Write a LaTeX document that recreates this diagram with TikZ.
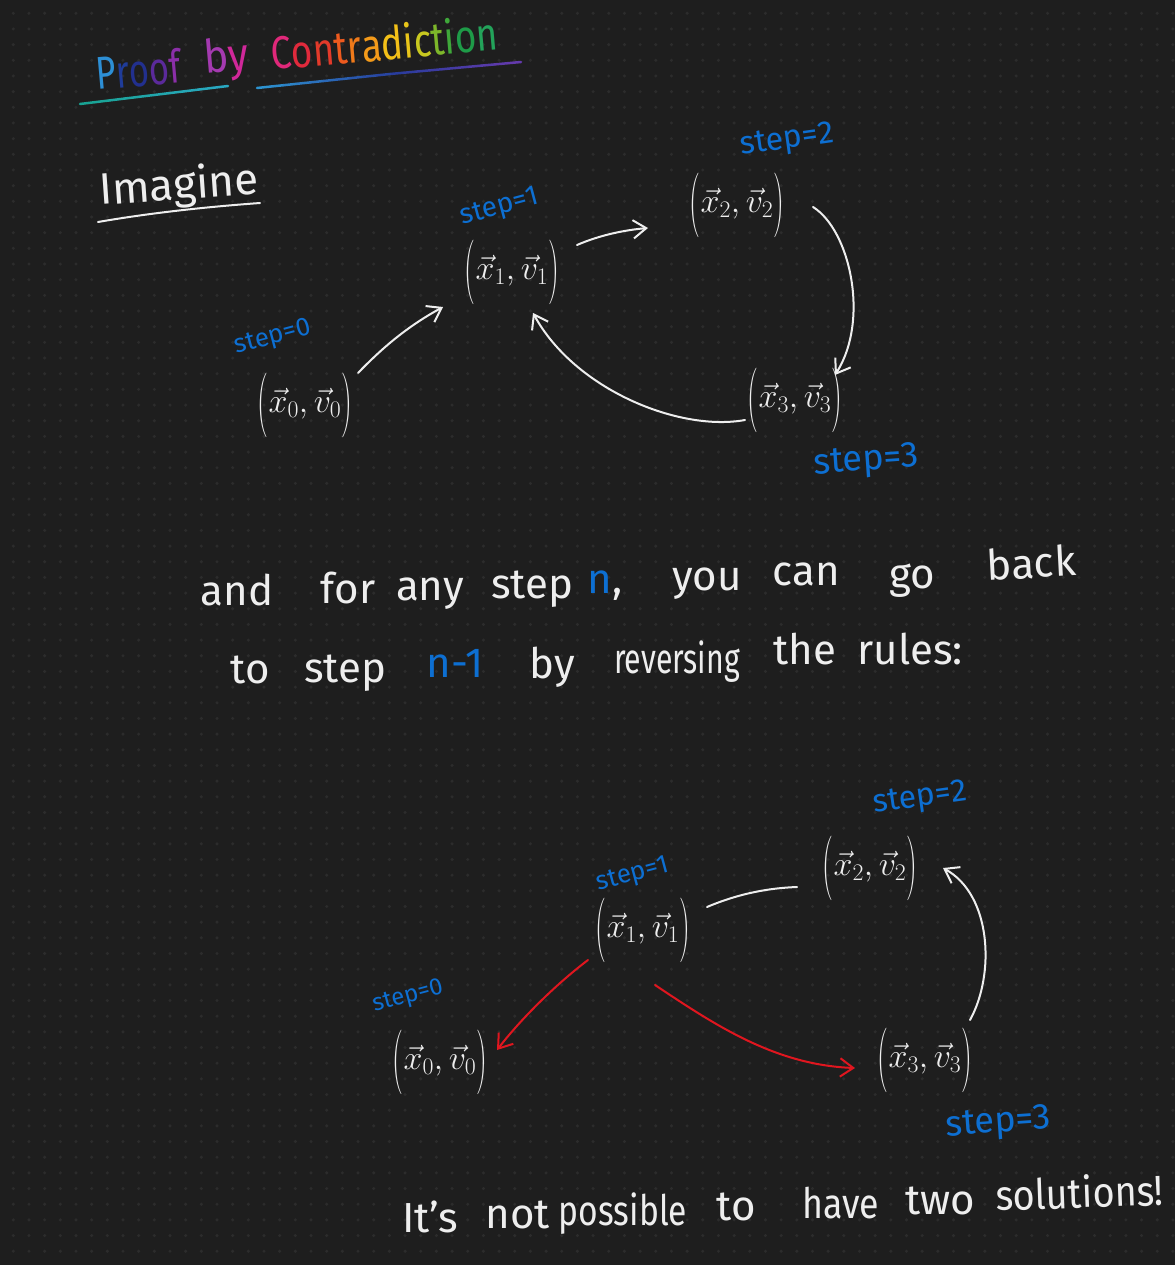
\RequirePackage{fix-cm}
\documentclass[tikz,border=0pt]{standalone}
\usepackage{fontspec}
\setmainfont{Fira Sans}
\usetikzlibrary{arrows.meta,calc}
\definecolor{bgc}{HTML}{1E1E1E}
\definecolor{dotc}{HTML}{2C2C2C}
\definecolor{inkc}{HTML}{EEEEEE}
\definecolor{bluec}{HTML}{0D6FD2}
\definecolor{redc}{HTML}{E0161F}
\definecolor{tP}{HTML}{2D8FD5}
\definecolor{tR}{HTML}{1F3C9A}
\definecolor{tO}{HTML}{22308F}
\definecolor{tOb}{HTML}{5B2A9B}
\definecolor{tF}{HTML}{8B2FA8}
\definecolor{tB}{HTML}{A43AB0}
\definecolor{tY}{HTML}{D0289A}
\definecolor{tC}{HTML}{E0287A}
\definecolor{tCo}{HTML}{E02A3C}
\definecolor{tN}{HTML}{E33A2A}
\definecolor{tT}{HTML}{EE5A1E}
\definecolor{tRr}{HTML}{F07A1A}
\definecolor{tA}{HTML}{F39A1A}
\definecolor{tD}{HTML}{F3C018}
\definecolor{tI}{HTML}{E8C51A}
\definecolor{tCc}{HTML}{C8C820}
\definecolor{tTt}{HTML}{7DB62A}
\definecolor{tIi}{HTML}{3FA83A}
\definecolor{tOo}{HTML}{1E9B48}
\definecolor{tNn}{HTML}{23A35A}
\definecolor{ulA}{HTML}{19A394}
\definecolor{ulB}{HTML}{2BA9C6}
\definecolor{ulC}{HTML}{2D93D0}
\definecolor{ulD}{HTML}{283C9C}
\definecolor{ulE}{HTML}{6A3AAE}
\newcommand{\tlp}{\raisebox{-0.25em}{\scalebox{0.9}[1.9]{$($}}}
\newcommand{\trp}{\raisebox{-0.25em}{\scalebox{0.9}[1.9]{$)$}}}
\newcommand{\tupl}[1]{\tlp$\vec{x}_{#1},\vec{v}_{#1}$\trp}
\tikzset{
  inkline/.style={draw=inkc, line width=2pt, line cap=round},
  arr/.style={inkline, -{Straight Barb[angle=70:16pt]}},
  redarr/.style={arr, draw=redc},
  tup/.style={text=inkc, font=\fontsize{34}{40}\selectfont, inner sep=0pt},
  steplbl/.style={text=bluec, inner sep=0pt},
  word/.style={text=inkc, font=\fontsize{42}{48}\selectfont, inner sep=0pt, anchor=base},
  titlew/.style={anchor=base west, rotate=5, inner sep=0pt, font=\fontsize{46}{52}\selectfont},
  dotline/.style={draw=dotc, line width=3.4pt, line cap=round, dash pattern=on 0pt off 15.67pt},
}
\begin{document}
\begin{tikzpicture}[x=1pt,y=-1pt]
\fill[bgc] (0,0) rectangle (1175,1265);
\useasboundingbox (0,0) rectangle (1175,1265);
\foreach \j in {0,...,80} {
  \draw[dotline] (13.3,{13.3+15.67*\j}) -- (1175,{13.3+15.67*\j});
}
% title
\node[titlew] (title1) at (97,90)
 {\scalebox{0.75}[1]{\textcolor{tP}{P}\textcolor{tR}{r}\textcolor{tO}{o}\textcolor{tOb}{o}\textcolor{tF}{f}}};
\node[titlew] (title2) at (205,74)
 {\scalebox{0.9}[1]{\textcolor{tB}{b}\textcolor{tY}{y}}};
\node[titlew] (title3) at (272,70)
 {\scalebox{0.8}[1]{\textcolor{tC}{C}\textcolor{tCo}{o}\textcolor{tN}{n}\textcolor{tT}{t}\textcolor{tRr}{r}\textcolor{tA}{a}\textcolor{tD}{d}\textcolor{tI}{i}\textcolor{tCc}{c}\textcolor{tTt}{t}\textcolor{tIi}{i}\textcolor{tOo}{o}\textcolor{tNn}{n}}};
\coordinate (u1s) at (80,104);
\coordinate (u1e) at (228,86);
\coordinate (u2s) at (257,88);
\coordinate (u2m) at (390,74);
\coordinate (u2e) at (521,62);
\foreach \i in {0,...,9} {
  \pgfmathtruncatemacro\p{100-10*\i}
  \draw[line width=2.5pt, line cap=round, draw=ulA!\p!ulB] ($(u1s)!{\i/10}!(u1e)$) -- ($(u1s)!{(\i+1)/10}!(u1e)$);
  \draw[line width=2.5pt, line cap=round, draw=ulC!\p!ulD] ($(u2s)!{\i/10}!(u2m)$) -- ($(u2s)!{(\i+1)/10}!(u2m)$);
  \draw[line width=2.5pt, line cap=round, draw=ulD!\p!ulE] ($(u2m)!{\i/10}!(u2e)$) -- ($(u2m)!{(\i+1)/10}!(u2e)$);
}
% Imagine
\node[anchor=base west, rotate=4, inner sep=0pt, text=inkc, font=\fontsize{44}{50}\selectfont] (imag) at (100,205) {Imagine};
\coordinate (iu1) at (98,222);
\coordinate (iu2) at (260,203);
\draw[inkline] (iu1) .. controls (150,213) and (205,207) .. (iu2);

% top diagram
\node[tup] (t0) at (305,405) {\tupl{0}};
\node[tup] (t1) at (512,272) {\tupl{1}};
\node[tup] (t2) at (737,205) {\tupl{2}};
\node[tup] (t3) at (795,400) {\tupl{3}};
\node[steplbl, rotate=15, font=\fontsize{26}{30}\selectfont] (ts0) at (273,338) {step=0};
\node[steplbl, rotate=15, font=\fontsize{28}{32}\selectfont] (ts1) at (500,208) {step=1};
\node[steplbl, rotate=8, font=\fontsize{32}{36}\selectfont] (ts2) at (787,141) {step=2};
\node[steplbl, rotate=4, font=\fontsize{36}{40}\selectfont] (ts3) at (866,462) {step=3};

\draw[arr] ($(t0)+(53,-32)$) .. controls (385,345) and (410,325) .. ($(t1)+(-69,35)$);
\draw[arr] ($(t1)+(65,-27)$) .. controls (600,235) and (625,230) .. ($(t2)+(-89,23)$);
\draw[arr] ($(t2)+(76,2)$) .. controls (850,230) and (870,320) .. ($(t3)+(40,-25)$);
\draw[arr] ($(t3)+(-50,20)$) .. controls (680,432) and (575,390) .. ($(t1)+(21,41)$);

% middle text
\node[word] (w1) at (237,605) {and};
\node[word] (w2) at (348,603) {for};
\node[word] (w3) at (430,600) {any};
\node[word] (w4) at (532,598) {step};
\node[word] (w5) at (605,593) {\textcolor{bluec}{n},};
\node[word] (w6) at (707,590) {you};
\node[word] (w7) at (806,585) {can};
\node[word] (w8) at (912,588) {go};
\node[word, rotate=3] (w9) at (1032,578) {back};
\node[word] (v1) at (250,683) {to};
\node[word] (v2) at (345,682) {step};
\node[word, text=bluec] (v3) at (455,677) {n-1};
\node[word] (v4) at (552,678) {by};
\node[word] (v5) at (677,673) {\scalebox{0.72}[1]{reversing}};
\node[word] (v6) at (805,664) {the};
\node[word] (v7) at (910,664) {rules:};

% bottom diagram
\node[tup] (b1) at (643,930) {\tupl{1}};
\node[tup] (b2) at (870,868) {\tupl{2}};
\node[tup] (b0) at (440,1062) {\tupl{0}};
\node[tup] (b3) at (925,1060) {\tupl{3}};
\node[steplbl, rotate=8, font=\fontsize{32}{36}\selectfont] (bs2) at (920,799) {step=2};
\node[steplbl, rotate=15, font=\fontsize{26}{30}\selectfont] (bs1) at (633,875) {step=1};
\node[steplbl, rotate=15, font=\fontsize{24}{28}\selectfont] (bs0) at (408,997) {step=0};
\node[steplbl, rotate=4, font=\fontsize{36}{40}\selectfont] (bs3) at (998,1124) {step=3};

\draw[inkline] ($(b1)+(64,-23)$) .. controls (740,893) and (770,888) .. ($(b2)+(-73,19)$);
\draw[arr] ($(b3)+(45,-40)$) .. controls (995,975) and (992,895) .. ($(b2)+(73,0)$);
\draw[redarr] ($(b1)+(-55,30)$) .. controls (555,985) and (520,1020) .. ($(b0)+(57,-12)$);
\draw[redarr] ($(b1)+(12,55)$) .. controls (715,1025) and (775,1065) .. ($(b3)+(-70,8)$);

% bottom sentence
\node[word] (x1) at (430,1232) {It's};
\node[word] (x2) at (518,1228) {not};
\node[word] (x3) at (623,1225) {\scalebox{0.8}[1]{possible}};
\node[word] (x4) at (736,1220) {to};
\node[word] (x5) at (841,1218) {\scalebox{0.85}[1]{have}};
\node[word] (x6) at (940,1214) {two};
\node[word, rotate=2] (x7) at (1080,1208) {\scalebox{0.9}[1]{solutions!}};
\end{tikzpicture}
\end{document}
